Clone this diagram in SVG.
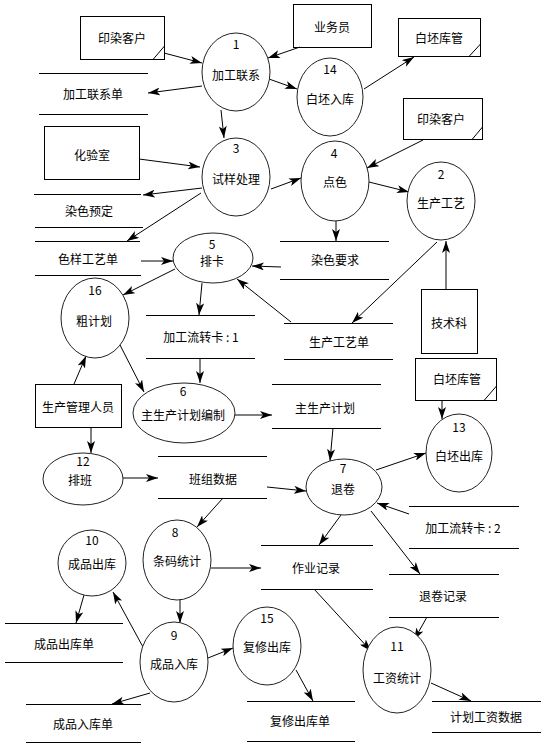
<svg xmlns="http://www.w3.org/2000/svg" width="548" height="746" viewBox="0 0 548 746">
<defs>
<marker id="ah" viewBox="0 0 12 8" refX="12" refY="4" markerWidth="12" markerHeight="8" markerUnits="userSpaceOnUse" orient="auto">
<path d="M0,0 L12,4 L0,8 L3,4 Z" fill="#000"/>
</marker>
<style>
text{font-family:"Noto Sans CJK SC","Liberation Sans",sans-serif;font-size:12px;fill:#000;text-anchor:middle;dominant-baseline:central}
.p ellipse{fill:#fff;stroke:#222;stroke-width:1}
.e rect{fill:#fff;stroke:#000;stroke-width:1}
.e line,.s line{stroke:#000;stroke-width:1}
#connectors line{stroke:#000;stroke-width:1;marker-end:url(#ah)}
</style>
</defs>
<rect width="548" height="746" fill="#fff"/>

<!-- external entities -->
<g id="e-kehu1" class="e"><rect x="80.5" y="16.5" width="84" height="43"/><line x1="164.5" y1="46" x2="153" y2="59.5"/><text x="122" y="37">印染客户</text></g>
<g id="e-yewuyuan" class="e"><rect x="293.5" y="4.5" width="78" height="43"/><text x="332" y="26">业务员</text></g>
<g id="e-kuguan1" class="e"><rect x="398.5" y="18.5" width="82" height="38"/><line x1="480.5" y1="44" x2="469" y2="56.5"/><text x="439" y="37">白坯库管</text></g>
<g id="e-kehu2" class="e"><rect x="403.5" y="98.5" width="79" height="41"/><line x1="482.5" y1="127" x2="472" y2="139.5"/><text x="441" y="118">印染客户</text></g>
<g id="e-huayanshi" class="e"><rect x="44.5" y="126.5" width="95" height="53"/><text x="92" y="154">化验室</text></g>
<g id="e-jishuke" class="e"><rect x="421.5" y="289.5" width="56" height="64"/><text x="449" y="322">技术科</text></g>
<g id="e-kuguan2" class="e"><rect x="415.5" y="358.5" width="81" height="42"/><line x1="496.5" y1="386" x2="484" y2="400.5"/><text x="457" y="378">白坯库管</text></g>
<g id="e-guanli" class="e"><rect x="35.5" y="384.5" width="86" height="43"/><text x="78" y="406">生产管理人员</text></g>

<!-- data stores -->
<g id="s-lianxidan" class="s"><line x1="39" y1="73.5" x2="148" y2="73.5"/><line x1="39" y1="114.5" x2="148" y2="114.5"/><text x="93" y="93">加工联系单</text></g>
<g id="s-yuding" class="s"><line x1="34" y1="194.5" x2="141" y2="194.5"/><line x1="35" y1="227.5" x2="143" y2="227.5"/><text x="89" y="210">染色预定</text></g>
<g id="s-seyang" class="s"><line x1="35" y1="241.5" x2="140" y2="241.5"/><line x1="35" y1="275.5" x2="141" y2="275.5"/><text x="88" y="258">色样工艺单</text></g>
<g id="s-yaoqiu" class="s"><line x1="280" y1="241.5" x2="389" y2="241.5"/><line x1="280" y1="279.5" x2="389" y2="279.5"/><text x="335" y="259">染色要求</text></g>
<g id="s-gongyidan" class="s"><line x1="284" y1="323.5" x2="393" y2="323.5"/><line x1="284" y1="359.5" x2="393" y2="359.5"/><text x="339" y="341">生产工艺单</text></g>
<g id="s-liuzhuan1" class="s"><line x1="146" y1="315.5" x2="255" y2="315.5"/><line x1="146" y1="358.5" x2="255" y2="358.5"/><text x="201" y="336">加工流转卡 : 1</text></g>
<g id="s-zhujihua" class="s"><line x1="272" y1="384.5" x2="381" y2="384.5"/><line x1="272" y1="428.5" x2="381" y2="428.5"/><text x="325" y="407">主生产计划</text></g>
<g id="s-banzu" class="s"><line x1="158" y1="456.5" x2="267" y2="456.5"/><line x1="158" y1="498.5" x2="267" y2="498.5"/><text x="213" y="478">班组数据</text></g>
<g id="s-zuoye" class="s"><line x1="261" y1="545.5" x2="373" y2="545.5"/><line x1="261" y1="589.5" x2="373" y2="589.5"/><text x="316" y="567">作业记录</text></g>
<g id="s-liuzhuan2" class="s"><line x1="409" y1="506.5" x2="519" y2="506.5"/><line x1="409" y1="548.5" x2="519" y2="548.5"/><text x="463" y="527">加工流转卡 : 2</text></g>
<g id="s-tuijuan" class="s"><line x1="389" y1="574.5" x2="499" y2="574.5"/><line x1="389" y1="617.5" x2="499" y2="617.5"/><text x="443" y="595">退卷记录</text></g>
<g id="s-gongzi" class="s"><line x1="432" y1="701.5" x2="541" y2="701.5"/><line x1="432" y1="732.5" x2="541" y2="732.5"/><text x="486" y="716">计划工资数据</text></g>
<g id="s-fuxiu" class="s"><line x1="247" y1="701.5" x2="355" y2="701.5"/><line x1="247" y1="741.5" x2="355" y2="741.5"/><text x="300" y="720">复修出库单</text></g>
<g id="s-chuku" class="s"><line x1="5" y1="623.5" x2="123" y2="623.5"/><line x1="5" y1="662.5" x2="123" y2="662.5"/><text x="64" y="643">成品出库单</text></g>
<g id="s-ruku" class="s"><line x1="26" y1="704.5" x2="141" y2="704.5"/><line x1="26" y1="742.5" x2="141" y2="742.5"/><text x="83" y="723">成品入库单</text></g>

<!-- connectors -->
<g id="connectors">
<line x1="164" y1="53" x2="202" y2="63"/>
<line x1="300" y1="47" x2="268" y2="58"/>
<line x1="269" y1="79" x2="297" y2="89"/>
<line x1="364" y1="89" x2="414" y2="57"/>
<line x1="202" y1="86" x2="148" y2="93"/>
<line x1="221" y1="110" x2="224" y2="138"/>
<line x1="139" y1="159" x2="200" y2="167"/>
<line x1="202" y1="188" x2="143" y2="195"/>
<line x1="201" y1="193" x2="127" y2="241"/>
<line x1="271" y1="189" x2="301" y2="178"/>
<line x1="423" y1="140" x2="367" y2="168"/>
<line x1="369" y1="182" x2="409" y2="192"/>
<line x1="336" y1="221" x2="336" y2="241"/>
<line x1="437" y1="242" x2="352" y2="323"/>
<line x1="446" y1="289" x2="446" y2="241"/>
<line x1="141" y1="261" x2="173" y2="261"/>
<line x1="281" y1="267" x2="252" y2="266"/>
<line x1="291" y1="322" x2="237" y2="279"/>
<line x1="175" y1="269" x2="123" y2="295"/>
<line x1="202" y1="283" x2="199" y2="315"/>
<line x1="200" y1="359" x2="200" y2="383"/>
<line x1="120" y1="345" x2="144" y2="392"/>
<line x1="74" y1="384" x2="86" y2="356"/>
<line x1="91" y1="427" x2="91" y2="453"/>
<line x1="234" y1="415" x2="272" y2="415"/>
<line x1="123" y1="478" x2="158" y2="478"/>
<line x1="267" y1="487" x2="306" y2="491"/>
<line x1="333" y1="428" x2="330" y2="461"/>
<line x1="376" y1="470" x2="426" y2="453"/>
<line x1="442" y1="400" x2="442" y2="419"/>
<line x1="223" y1="498" x2="197" y2="527"/>
<line x1="409" y1="514" x2="377" y2="503"/>
<line x1="341" y1="515" x2="319" y2="545"/>
<line x1="371" y1="511" x2="420" y2="574"/>
<line x1="211" y1="568" x2="261" y2="568"/>
<line x1="180" y1="599" x2="180" y2="623"/>
<line x1="84" y1="595" x2="76" y2="623"/>
<line x1="143" y1="647" x2="113" y2="592"/>
<line x1="208" y1="658" x2="233" y2="648"/>
<line x1="150" y1="693" x2="112" y2="704"/>
<line x1="296" y1="670" x2="313" y2="701"/>
<line x1="314" y1="589" x2="371" y2="651"/>
<line x1="427" y1="617" x2="414" y2="640"/>
<line x1="431" y1="683" x2="471" y2="701"/>
</g>

<!-- processes -->
<g id="p1" class="p"><ellipse cx="236" cy="72" rx="34" ry="39"/><text x="236" y="43">1</text><text x="236" y="74">加工联系</text></g>
<g id="p14" class="p"><ellipse cx="330" cy="97" rx="33" ry="39"/><text x="330" y="68">14</text><text x="330" y="98">白坯入库</text></g>
<g id="p3" class="p"><ellipse cx="236" cy="177" rx="34" ry="39"/><text x="236" y="147">3</text><text x="236" y="178">试样处理</text></g>
<g id="p4" class="p"><ellipse cx="335" cy="181" rx="34" ry="40"/><text x="334" y="152">4</text><text x="335" y="181">点色</text></g>
<g id="p2" class="p"><ellipse cx="441" cy="201" rx="34" ry="39"/><text x="441" y="173">2</text><text x="441" y="202">生产工艺</text></g>
<g id="p5" class="p"><ellipse cx="213" cy="258" rx="40" ry="25"/><text x="212" y="243">5</text><text x="212" y="260">排卡</text></g>
<g id="p16" class="p"><ellipse cx="95" cy="318" rx="34" ry="40"/><text x="95" y="289">16</text><text x="94" y="320">粗计划</text></g>
<g id="p6" class="p"><ellipse cx="184" cy="413" rx="51" ry="30"/><text x="183" y="390">6</text><text x="183" y="414">主生产计划编制</text></g>
<g id="p12" class="p"><ellipse cx="83" cy="479" rx="40" ry="26"/><text x="83" y="460">12</text><text x="80" y="479">排班</text></g>
<g id="p7" class="p"><ellipse cx="344" cy="487" rx="38" ry="28"/><text x="343" y="467">7</text><text x="343" y="488">退卷</text></g>
<g id="p13" class="p"><ellipse cx="459" cy="453" rx="33" ry="39"/><text x="459" y="426">13</text><text x="459" y="455">白坯出库</text></g>
<g id="p8" class="p"><ellipse cx="177" cy="560" rx="34" ry="40"/><text x="175" y="531">8</text><text x="177" y="560">条码统计</text></g>
<g id="p10" class="p"><ellipse cx="92" cy="563" rx="34" ry="33"/><text x="92" y="539">10</text><text x="92" y="563">成品出库</text></g>
<g id="p9" class="p"><ellipse cx="174" cy="662" rx="34" ry="40"/><text x="174" y="634">9</text><text x="174" y="663">成品入库</text></g>
<g id="p15" class="p"><ellipse cx="267" cy="646" rx="34" ry="39"/><text x="267" y="617">15</text><text x="267" y="646">复修出库</text></g>
<g id="p11" class="p"><ellipse cx="397" cy="670" rx="34" ry="43"/><text x="397" y="645">11</text><text x="397" y="677">工资统计</text></g>
</svg>
